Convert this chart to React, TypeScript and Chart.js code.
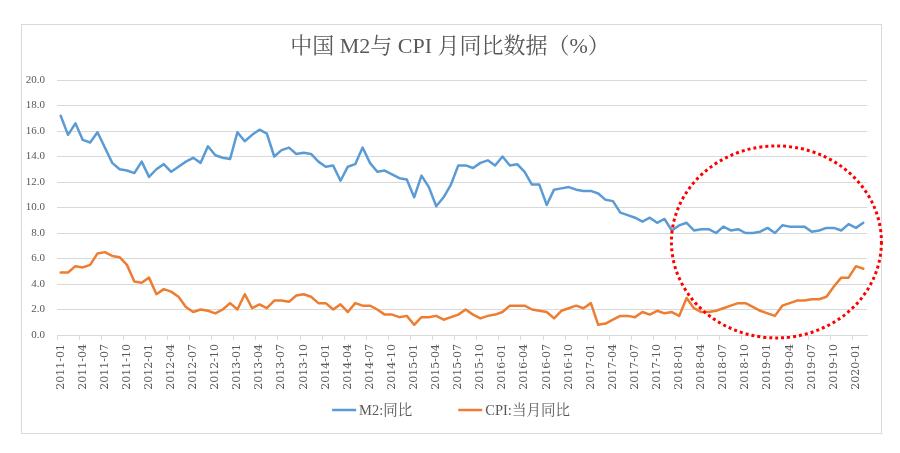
import { useEffect, useRef } from 'react';
import { Chart, registerables } from 'chart.js';

Chart.register(...registerables);

const titleText = '中国 M2与 CPI 月同比数据（%）';
const m2Label = 'M2:同比';
const cpiLabel = 'CPI:当月同比';

// Monthly categories 2011-01 … 2020-02
const years = [2011, 2012, 2013, 2014, 2015, 2016, 2017, 2018, 2019, 2020];
const months = ['01', '02', '03', '04', '05', '06', '07', '08', '09', '10', '11', '12'];
const categories: string[] = [];
years.forEach((y) => months.forEach((m) => categories.push(`${y}-${m}`)));
categories.splice(110);

const m2Values = [
  17.2, 15.7, 16.6, 15.3, 15.1, 15.9, 14.7, 13.5, 13.0, 12.9, 12.7, 13.6,
  12.4, 13.0, 13.4, 12.8, 13.2, 13.6, 13.9, 13.5, 14.8, 14.1, 13.9, 13.8,
  15.9, 15.2, 15.7, 16.1, 15.8, 14.0, 14.5, 14.7, 14.2, 14.3, 14.2, 13.6,
  13.2, 13.3, 12.1, 13.2, 13.4, 14.7, 13.5, 12.8, 12.9, 12.6, 12.3, 12.2,
  10.8, 12.5, 11.6, 10.1, 10.8, 11.8, 13.3, 13.3, 13.1, 13.5, 13.7, 13.3,
  14.0, 13.3, 13.4, 12.8, 11.8, 11.8, 10.2, 11.4, 11.5, 11.6, 11.4, 11.3,
  11.3, 11.1, 10.6, 10.5, 9.6, 9.4, 9.2, 8.9, 9.2, 8.8, 9.1, 8.2,
  8.6, 8.8, 8.2, 8.3, 8.3, 8.0, 8.5, 8.2, 8.3, 8.0, 8.0, 8.1,
  8.4, 8.0, 8.6, 8.5, 8.5, 8.5, 8.1, 8.2, 8.4, 8.4, 8.2, 8.7,
  8.4, 8.8,
];

const cpiValues = [
  4.9, 4.9, 5.4, 5.3, 5.5, 6.4, 6.5, 6.2, 6.1, 5.5, 4.2, 4.1,
  4.5, 3.2, 3.6, 3.4, 3.0, 2.2, 1.8, 2.0, 1.9, 1.7, 2.0, 2.5,
  2.0, 3.2, 2.1, 2.4, 2.1, 2.7, 2.7, 2.6, 3.1, 3.2, 3.0, 2.5,
  2.5, 2.0, 2.4, 1.8, 2.5, 2.3, 2.3, 2.0, 1.6, 1.6, 1.4, 1.5,
  0.8, 1.4, 1.4, 1.5, 1.2, 1.4, 1.6, 2.0, 1.6, 1.3, 1.5, 1.6,
  1.8, 2.3, 2.3, 2.3, 2.0, 1.9, 1.8, 1.3, 1.9, 2.1, 2.3, 2.1,
  2.5, 0.8, 0.9, 1.2, 1.5, 1.5, 1.4, 1.8, 1.6, 1.9, 1.7, 1.8,
  1.5, 2.9, 2.1, 1.8, 1.8, 1.9, 2.1, 2.3, 2.5, 2.5, 2.2, 1.9,
  1.7, 1.5, 2.3, 2.5, 2.7, 2.7, 2.8, 2.8, 3.0, 3.8, 4.5, 4.5,
  5.4, 5.2,
];

const yMin = 0;
const yMax = 20;
const yStep = 2;

// highlight ellipse centre in data terms (category index, value)
const highlightCenter = { index: 97.2, value: 7.3 };

const SERIF = "'Liberation Serif', 'Noto Serif CJK SC', 'Noto Sans CJK SC', serif";
const TEXT = '#595959';
const GRID = '#d9d9d9';

const framePlugin = {
  id: 'frame',
  beforeDraw(chart: any) {
    const { ctx, width, height } = chart;
    ctx.save();
    ctx.fillStyle = '#ffffff';
    ctx.fillRect(0, 0, width, height);
    ctx.strokeStyle = GRID;
    ctx.lineWidth = 1;
    ctx.strokeRect(21.5, 24.5, 860, 409);
    ctx.restore();
  },
};

const highlightPlugin = {
  id: 'highlight',
  afterDatasetsDraw(chart: any) {
    const { ctx, scales } = chart;
    const cx = scales.x.getPixelForValue(highlightCenter.index);
    const cy = scales.y.getPixelForValue(highlightCenter.value);
    ctx.save();
    ctx.beginPath();
    ctx.ellipse(cx, cy, 105, 96, 0, 0, Math.PI * 2);
    ctx.strokeStyle = '#ff0000';
    ctx.lineWidth = 3;
    ctx.setLineDash([3, 3]);
    ctx.stroke();
    ctx.restore();
  },
};

// legend drawn from the datasets, with Excel-like spacing
const legendPlugin = {
  id: 'customLegend',
  afterDraw(chart: any) {
    const { ctx } = chart;
    const sets = chart.data.datasets;
    const lineW = 24;
    const textGap = 3;
    const itemGap = 46;
    const y = 410;
    ctx.save();
    ctx.font = `14.5px ${SERIF}`;
    ctx.textBaseline = 'middle';
    ctx.textAlign = 'left';
    const widths = sets.map((d: any) => lineW + textGap + ctx.measureText(d.label).width);
    const total = widths.reduce((a: number, b: number) => a + b, 0) + itemGap * (sets.length - 1);
    let x = 451 - total / 2;
    sets.forEach((d: any, i: number) => {
      ctx.strokeStyle = d.borderColor;
      ctx.lineWidth = 2.5;
      ctx.beginPath();
      ctx.moveTo(x, y);
      ctx.lineTo(x + lineW, y);
      ctx.stroke();
      ctx.fillStyle = TEXT;
      ctx.fillText(d.label, x + lineW + textGap, y + 1);
      x += widths[i] + itemGap;
    });
    ctx.restore();
  },
};

export default function App() {
  const ref = useRef<HTMLCanvasElement | null>(null);

  useEffect(() => {
    document.body.style.margin = '0';
    if (!ref.current) return;
    const chart = new Chart(ref.current, {
      type: 'line',
      data: {
        labels: categories,
        datasets: [
          {
            label: m2Label,
            data: m2Values,
            borderColor: '#5b9bd5',
            backgroundColor: '#5b9bd5',
            borderWidth: 2.5,
            pointRadius: 0,
            tension: 0,
            borderJoinStyle: 'round',
            borderCapStyle: 'round',
          },
          {
            label: cpiLabel,
            data: cpiValues,
            borderColor: '#ed7d31',
            backgroundColor: '#ed7d31',
            borderWidth: 2.5,
            pointRadius: 0,
            tension: 0,
            borderJoinStyle: 'round',
            borderCapStyle: 'round',
          },
        ],
      },
      options: {
        animation: false,
        responsive: false,
        devicePixelRatio: 1,
        layout: { padding: { top: 22, left: 0, right: 0, bottom: 58 } },
        plugins: {
          title: {
            display: true,
            text: titleText,
            color: TEXT,
            font: { family: SERIF, size: 22, weight: 'normal' },
            padding: { top: 12, bottom: 19.6 },
          },
          legend: { display: false },
          tooltip: { enabled: false },
        },
        scales: {
          x: {
            offset: true,
            afterFit: (s: any) => {
              s.height = 60;
            },
            grid: {
              offset: true,
              drawOnChartArea: false,
              drawTicks: true,
              tickLength: 5,
              tickColor: (c: any) => (c.index % 3 === 0 ? GRID : 'rgba(0,0,0,0)'),
            },
            border: { display: true, color: GRID },
            ticks: {
              autoSkip: false,
              minRotation: 90,
              maxRotation: 90,
              padding: 4,
              color: TEXT,
              font: { family: "'DejaVu Serif', serif", size: 11 },
              callback: (_v: any, i: number) => (i % 3 === 0 ? categories[i] : ''),
            },
          },
          y: {
            min: yMin,
            max: yMax,
            afterFit: (s: any) => {
              s.width = 57;
            },
            grid: { color: GRID, lineWidth: 1, drawTicks: false },
            border: { display: false },
            ticks: {
              stepSize: yStep,
              padding: 12,
              color: TEXT,
              font: { family: SERIF, size: 11 },
              callback: (v: any) => Number(v).toFixed(1),
            },
          },
          yRight: {
            position: 'right',
            min: yMin,
            max: yMax,
            afterFit: (s: any) => {
              s.width = 33;
            },
            grid: { drawOnChartArea: false, drawTicks: false },
            border: { display: false },
            ticks: { display: false },
          },
        },
      },
      plugins: [framePlugin, highlightPlugin, legendPlugin],
    });
    return () => chart.destroy();
  }, []);

  return <canvas ref={ref} width={900} height={453} style={{ display: 'block' }} />;
}
